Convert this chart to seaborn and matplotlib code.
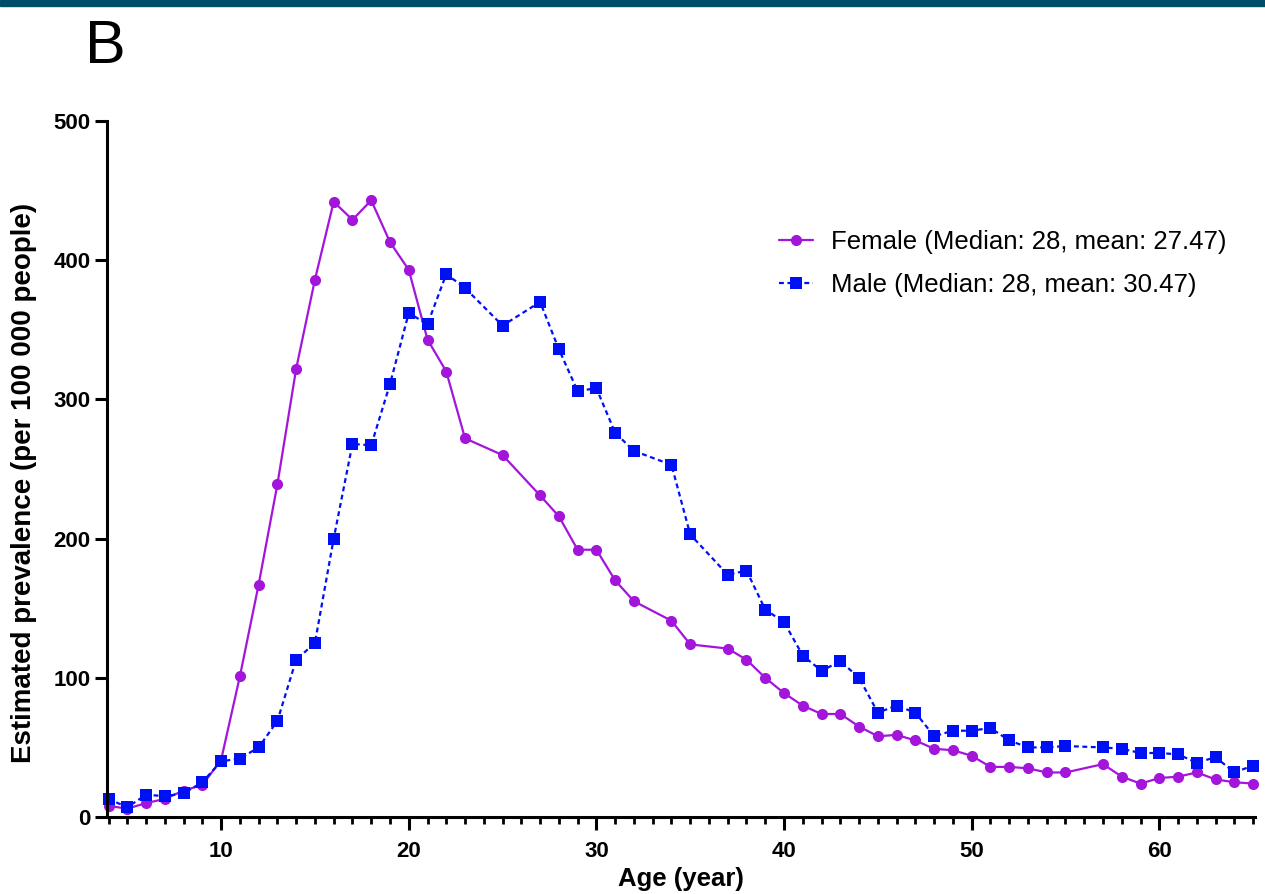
"""
Age-specific estimated prevalence by sex (panel B), redrawn with seaborn.
"""
import matplotlib
matplotlib.use("Agg")
import matplotlib.pyplot as plt
from matplotlib.patches import Rectangle
from matplotlib.ticker import MultipleLocator
import seaborn as sns

# ages 24, 26, 33, 36 and 56 have no point in the original figure
ages = [4, 5, 6, 7, 8, 9, 10, 11, 12, 13, 14, 15, 16, 17, 18, 19, 20, 21, 22, 23,
        25, 27, 28, 29, 30, 31, 32, 34, 35, 37, 38, 39, 40, 41, 42, 43, 44, 45,
        46, 47, 48, 49, 50, 51, 52, 53, 54, 55, 57, 58, 59, 60, 61, 62, 63, 64, 65]

female = [8, 6, 10, 13, 19, 23, 41, 101, 167, 239, 322, 386, 442, 429, 443, 413,
          393, 343, 320, 272, 260, 231, 216, 192, 192, 170, 155, 141, 124, 121,
          113, 100, 89, 80, 74, 74, 65, 58, 59, 55, 49, 48, 44, 36, 36, 35, 32,
          32, 38, 29, 24, 28, 29, 32, 27, 25, 24]

male = [13, 7, 16, 15, 17, 25, 40, 42, 50, 69, 113, 125, 200, 268, 267, 311, 362,
        354, 390, 380, 353, 370, 336, 306, 308, 276, 263, 253, 203, 174, 177,
        149, 140, 116, 105, 112, 100, 75, 80, 75, 58, 62, 62, 64, 55, 50, 50,
        51, 50, 49, 46, 46, 45, 39, 43, 32, 37]

female_label = "Female (Median: 28, mean: 27.47)"
male_label = "Male (Median: 28, mean: 30.47)"

FEMALE_COLOR = "#A315DA"
MALE_COLOR = "#0010F5"

sns.set_theme(style="ticks")
plt.rcParams["font.family"] = ["Liberation Sans", "DejaVu Sans"]
plt.rcParams.update({"text.color": "black", "axes.labelcolor": "black",
                     "xtick.color": "black", "ytick.color": "black"})

fig = plt.figure(figsize=(12.65, 8.94), dpi=100)
ax = fig.add_axes([0.0846, 0.0861, 0.9075, 0.7786])

sns.lineplot(x=ages, y=female, ax=ax, color=FEMALE_COLOR, linewidth=1.6,
             marker="o", markersize=8, markeredgewidth=0, label=female_label,
             clip_on=False)
sns.lineplot(x=ages, y=male, ax=ax, color=MALE_COLOR, linewidth=1.6,
             linestyle=(0, (2.2, 1.6)), marker="s", markersize=8,
             markeredgewidth=0, label=male_label, clip_on=False)

ax.set_xlim(3.92, 65.1)
ax.set_ylim(0, 500)
ax.xaxis.set_major_locator(MultipleLocator(10))
ax.xaxis.set_minor_locator(MultipleLocator(1))
ax.yaxis.set_major_locator(MultipleLocator(100))

sns.despine(ax=ax)
for side in ("left", "bottom"):
    ax.spines[side].set_linewidth(2.2)
    ax.spines[side].set_color("black")
ax.tick_params(axis="both", which="major", length=9, width=2.2, labelsize=16)
ax.tick_params(axis="x", which="major", pad=8)
ax.tick_params(axis="y", which="major", pad=3)
ax.tick_params(axis="x", which="minor", length=5, width=2.0)
for lab in ax.get_xticklabels() + ax.get_yticklabels():
    lab.set_fontweight("bold")

ax.set_xlabel("Age (year)", fontsize=18.5, fontweight="bold", labelpad=4)
ax.set_ylabel("Estimated prevalence (per 100 000 people)", fontsize=20,
              fontweight="bold")
ax.yaxis.set_label_coords(-0.061, 0.48)

ax.legend(loc="upper left", bbox_to_anchor=(0.565, 0.877), frameon=False,
          fontsize=18.5, handlelength=1.35, handletextpad=0.7,
          labelspacing=0.74)

fig.text(0.067, 0.93, "B", fontsize=44, ha="left", va="baseline")
fig.patches.append(Rectangle((0, 0.993), 1, 0.007, transform=fig.transFigure,
                             color="#004C6B", zorder=0))

fig.savefig("out.png", dpi=100)
